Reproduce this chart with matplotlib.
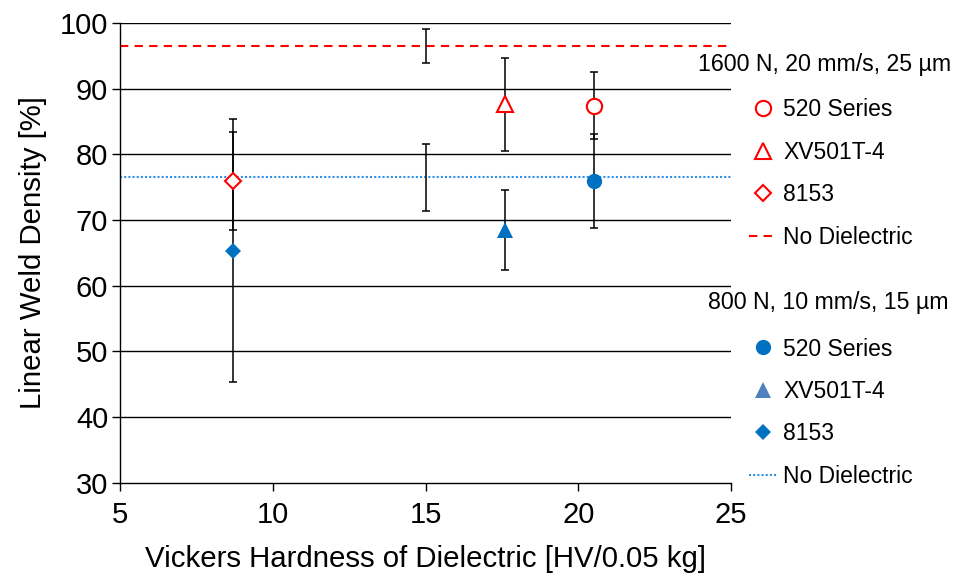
import numpy as np
import matplotlib
matplotlib.use("Agg")
import matplotlib.pyplot as plt
from matplotlib.lines import Line2D

plt.rcParams['font.family'] = ['Liberation Sans', 'DejaVu Sans']

# dielectric hardness [HV/0.05 kg]
materials = ['520 Series', 'XV501T-4', '8153']
hardness = [20.5, 17.6, 8.7]

# 1600 N, 20 mm/s, 25 um
high_mean = [87.4, 87.6, 75.9]
high_err = [5.1, 7.1, 7.5]
high_nodiel = 96.5
high_nodiel_err = 2.6

# 800 N, 10 mm/s, 15 um
low_mean = [75.9, 68.4, 65.3]
low_err = [7.2, 6.1, 20.0]
low_nodiel = 76.5
low_nodiel_err = 5.1

nodiel_x = 15

red = '#FF0000'
blue = '#0070C0'
blue_line = '#2F8FE6'
blue_legend = '#4F81BD'
markers = ['o', '^', 'D']
msizes = [11, 11.5, 8.3]

W, H = 957, 576
fig = plt.figure(figsize=(W / 100, H / 100), dpi=100)
ax = fig.add_axes([120 / W, 1 - 482.5 / H, (731 - 120) / W, (482.5 - 23) / H])

ax.set_xlim(5, 25)
ax.set_ylim(30, 100)
ax.set_xticks([5, 10, 15, 20, 25])
ax.set_yticks(np.arange(30, 101, 10))
for y in np.arange(40, 101, 10):
    ax.axhline(y, color='black', lw=1.0, zorder=0)

for s in ['top', 'right']:
    ax.spines[s].set_visible(False)
for s in ['left', 'bottom']:
    ax.spines[s].set_linewidth(1.0)
ax.tick_params(axis='both', labelsize=21, length=5.5, width=1.0, color='black')
ax.tick_params(axis='x', pad=8)
ax.tick_params(axis='y', pad=3)

# no dielectric reference lines
ax.axhline(high_nodiel, color=red, lw=1.5, ls=(0, (4, 3)), zorder=1)
ax.axhline(low_nodiel, color=blue_line, lw=1.5, ls=(0, (1, 1)), zorder=1)

# error bars
ax.errorbar(hardness + hardness + [nodiel_x, nodiel_x],
            high_mean + low_mean + [high_nodiel, low_nodiel],
            yerr=high_err + low_err + [high_nodiel_err, low_nodiel_err],
            fmt='none', ecolor='black', elinewidth=1.1, capsize=3, capthick=1.1, zorder=2)

for i in range(3):
    ax.plot(hardness[i], high_mean[i], ls='none', marker=markers[i], ms=msizes[i],
            mfc='white', mec=red, mew=1.5, zorder=3)
    ax.plot(hardness[i], low_mean[i], ls='none', marker=markers[i], ms=msizes[i],
            mfc=blue, mec=blue, mew=0, zorder=3)

ax.set_xlabel('Vickers Hardness of Dielectric [HV/0.05 kg]', fontsize=21.2, labelpad=11)
ax.set_ylabel('Linear Weld Density [%]', fontsize=21.2, labelpad=9)

# legends
h1 = [Line2D([], [], ls='none', marker=m, ms=s, mfc='white', mec=red, mew=1.5)
      for m, s in zip(markers, msizes)]
h1.append(Line2D([], [], color=red, lw=1.5, ls=(0, (4, 3))))
h2 = [Line2D([], [], ls='none', marker=m, ms=s, mfc=c, mec=c, mew=0)
      for m, s, c in zip(markers, msizes, [blue, blue_legend, blue])]
h2.append(Line2D([], [], color=blue_line, lw=1.5, ls=(0, (1, 1))))
labels = materials + ['No Dielectric']

leg_kw = dict(frameon=False, fontsize=16.5, handlelength=1.2, handletextpad=0.3,
              labelspacing=0.85, borderpad=0, borderaxespad=0, loc='upper left')
leg1 = fig.legend(h1, labels, bbox_to_anchor=(749 / W, 1 - 98.5 / H), **leg_kw)
leg2 = fig.legend(h2, labels, bbox_to_anchor=(749 / W, 1 - 337.5 / H), **leg_kw)

fig.text(951 / W, 1 - 65 / H, '1600 N, 20 mm/s, 25 µm', fontsize=16.7, ha='right', va='center')
fig.text(948 / W, 1 - 303 / H, '800 N, 10 mm/s, 15 µm', fontsize=16.7, ha='right', va='center')

fig.savefig('out.png', dpi=100)
